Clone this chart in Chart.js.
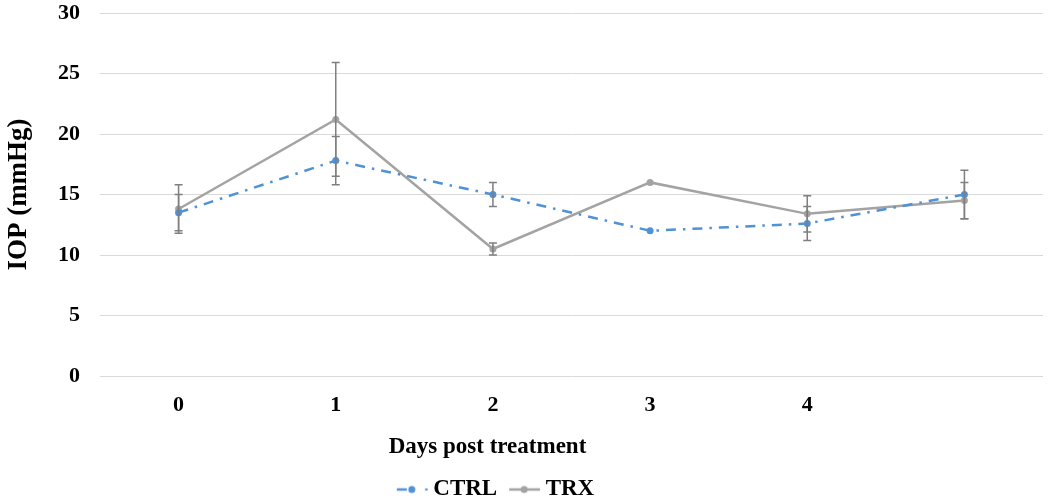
<!DOCTYPE html>
<html><head><meta charset="utf-8">
<script src="https://cdn.jsdelivr.net/npm/chart.js@4.4.0/dist/chart.umd.min.js"></script>
<style>html,body{margin:0;padding:0;background:#fff;}#wrap{width:1050px;height:503px;}</style>
</head><body><div id="wrap"><canvas id="c" width="1050" height="503"></canvas></div>
<script>
// ---- data ----
const categories = ['0', '1', '2', '3', '4', ''];
const ctrlValues = [13.5, 17.8, 15.0, 12.0, 12.6, 15.0];
const trxValues  = [13.8, 21.2, 10.5, 16.0, 13.4, 14.5];
const ctrlErrors = [1.5, 2.0, 1.0, 0, 1.4, 2.0];
const trxErrors  = [2.0, 4.7, 0.5, 0, 1.5, 1.5];
const seriesNames = ['CTRL', 'TRX'];
const yMin = 0, yMax = 30, yStep = 5;
const xTitle = 'Days post treatment';
const yTitle = 'IOP (mmHg)';

// ---- styles ----
const SERIF = "'Liberation Serif', 'Times New Roman', serif";
const BLUE = '#4F92D6';
const GRAY = '#A3A3A3';
const ERR = '#7F7F7F';

function makeSample(kind) {
  const c = document.createElement('canvas');
  c.width = 41; c.height = 12;
  const g = c.getContext('2d');
  g.lineWidth = 2.5;
  if (kind === 0) {
    g.strokeStyle = BLUE; g.fillStyle = BLUE;
    g.beginPath(); g.moveTo(10, 6); g.lineTo(20, 6); g.stroke();
    g.beginPath(); g.arc(25, 6, 3.5, 0, Math.PI * 2); g.fill();
    g.beginPath(); g.arc(39.5, 6, 1.3, 0, Math.PI * 2); g.fill();
  } else {
    g.strokeStyle = GRAY; g.fillStyle = GRAY;
    g.beginPath(); g.moveTo(10, 6); g.lineTo(41, 6); g.stroke();
    g.beginPath(); g.arc(25, 6, 3.5, 0, Math.PI * 2); g.fill();
  }
  return c;
}
const samples = [makeSample(0), makeSample(1)];
const errorSets = [ctrlErrors, trxErrors];

const errorBars = {
  id: 'errorBars',
  afterDatasetsDraw(chart) {
    const ctx = chart.ctx, xs = chart.scales.x, ys = chart.scales.y;
    ctx.save();
    ctx.strokeStyle = ERR; ctx.lineWidth = 1.5;
    chart.data.datasets.forEach((ds, di) => {
      const errs = errorSets[di];
      ds.data.forEach((v, i) => {
        const e = errs[i];
        if (!e) return;
        const x = xs.getPixelForValue(i);
        const yt = ys.getPixelForValue(v + e), yb = ys.getPixelForValue(v - e);
        ctx.beginPath();
        ctx.moveTo(x, yt); ctx.lineTo(x, yb);
        ctx.moveTo(x - 4, yt); ctx.lineTo(x + 4, yt);
        ctx.moveTo(x - 4, yb); ctx.lineTo(x + 4, yb);
        ctx.stroke();
      });
    });
    ctx.restore();
  }
};

const shifter = {
  id: 'shifter',
  afterLayout(chart) {
    const lg = chart.legend;
    if (lg) { lg.left -= 28; lg.right -= 28; lg.top += 8; lg.bottom += 8; }
    const tb = chart.titleBlock;
    if (tb) { tb.left -= 34; tb.right -= 34; }
  }
};

new Chart(document.getElementById('c'), {
  type: 'line',
  data: {
    labels: categories,
    datasets: [
      { label: seriesNames[0], data: ctrlValues, borderColor: BLUE, backgroundColor: BLUE,
        borderWidth: 2.5, borderDash: [10, 7, 2.5, 7], borderCapStyle: 'butt',
        pointRadius: 3.5, pointBorderWidth: 0, pointBackgroundColor: BLUE, tension: 0, fill: false },
      { label: seriesNames[1], data: trxValues, borderColor: GRAY, backgroundColor: GRAY,
        borderWidth: 2.5, pointRadius: 3.5, pointBorderWidth: 0, pointBackgroundColor: GRAY,
        tension: 0, fill: false }
    ]
  },
  options: {
    responsive: false,
    animation: false,
    devicePixelRatio: 1,
    layout: { padding: { top: 13, right: 7, bottom: 0, left: 0 } },
    scales: {
      x: {
        offset: true,
        grid: { display: false, drawTicks: false },
        border: { display: false },
        ticks: { color: '#000', padding: 16, font: { family: SERIF, size: 22, weight: 'bold' }, maxRotation: 0 },
        afterFit(s) { s.height = 39.4; }
      },
      y: {
        min: yMin, max: yMax,
        grid: { color: '#D9D9D9', lineWidth: 1, drawTicks: false },
        border: { display: false },
        ticks: { stepSize: yStep, color: '#000', padding: 20, font: { family: SERIF, size: 22, weight: 'bold' } },
        title: { display: true, text: yTitle, color: '#000', padding: { top: 3, bottom: 0 },
                 font: { family: SERIF, size: 27, weight: 'bold' } },
        afterFit(s) { s.width = 100; s.paddingTop = 0; s.paddingBottom = 0; }
      }
    },
    plugins: {
      title: { display: true, text: xTitle, position: 'bottom', weight: 500, color: '#000',
               padding: { top: 18, bottom: 1 }, font: { family: SERIF, size: 23, weight: 'bold' } },
      legend: {
        position: 'bottom',
        labels: {
          usePointStyle: true, pointStyleWidth: 29, padding: 8, color: '#000',
          font: { family: SERIF, size: 23, weight: 'bold' },
          generateLabels(chart) {
            return chart.data.datasets.map((ds, i) => ({
              text: ds.label, pointStyle: samples[i], fillStyle: ds.borderColor,
              strokeStyle: ds.borderColor, lineWidth: 0, hidden: false, datasetIndex: i, fontColor: '#000'
            }));
          }
        }
      },
      tooltip: { enabled: false }
    }
  },
  plugins: [errorBars, shifter]
});
</script>
</body></html>
